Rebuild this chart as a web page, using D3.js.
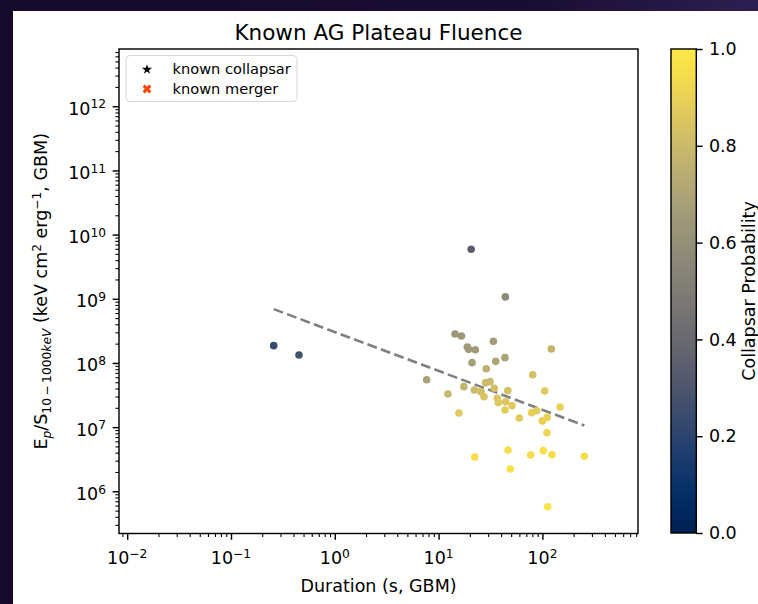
<!DOCTYPE html>
<html>
<head>
<meta charset="utf-8">
<script src="https://cdn.jsdelivr.net/npm/d3@7"></script>
<style>
  body { margin: 0; background: #160a2c; }
  svg { display: block; }
  text { font-family: "DejaVu Sans", sans-serif; fill: #000; }
</style>
</head>
<body>
<svg id="chart" width="758" height="604"></svg>
<script>
// GRB sample: GBM duration, peak-energy / fluence ratio, collapsar probability
const durations = [0.258, 0.452, 20.6, 44.0, 14.4, 16.6, 18.9, 19.5, 22.6, 33.7,
  121.9, 21.0, 28.8, 35.5, 43.6, 7.67, 80.7, 12.3, 17.5, 22.1,
  25.6, 27.4, 28.4, 31.3, 34.4, 36.8, 37.6, 44.3, 46.4, 51.0,
  43.6, 15.7, 59.9, 78.9, 88.1, 105.2, 147.9, 99.8, 111.5, 110.7,
  22.3, 46.7, 49.1, 77.1, 102.1, 123.6, 253.5, 112.4];
const fluenceRatios = [1.86e8, 1.33e8, 5.92e9, 1.07e9, 2.83e8, 2.63e8, 1.77e8, 1.63e8, 1.61e8, 2.18e8,
  1.65e8, 1.01e8, 8.14e7, 1.06e8, 1.21e8, 5.48e7, 6.56e7, 3.29e7, 4.27e7, 3.79e7,
  3.57e7, 2.98e7, 4.93e7, 5.11e7, 4.03e7, 2.82e7, 2.41e7, 2.49e7, 3.70e7, 2.16e7,
  1.85e7, 1.66e7, 1.39e7, 1.68e7, 1.80e7, 3.66e7, 2.06e7, 1.25e7, 1.42e7, 8.19e6,
  3.43e6, 4.41e6, 2.23e6, 3.68e6, 4.30e6, 3.72e6, 3.52e6, 5.75e5];
const collapsarProb = [0.24, 0.27, 0.35, 0.57, 0.63, 0.64, 0.64, 0.65, 0.66, 0.66,
  0.78, 0.68, 0.75, 0.71, 0.69, 0.69, 0.82, 0.79, 0.78, 0.80,
  0.82, 0.84, 0.80, 0.80, 0.82, 0.85, 0.86, 0.85, 0.83, 0.87,
  0.88, 0.86, 0.88, 0.89, 0.88, 0.86, 0.90, 0.90, 0.90, 0.92,
  0.95, 0.95, 0.96, 0.95, 0.96, 0.95, 0.95, 0.98];

// power-law trend endpoints
const fitDurations = [0.258, 253.5];
const fitRatios = [6.9e8, 1.06e7];

// axis ticks
const xMajorExponents = [-2, -1, 0, 1, 2];
const yMajorExponents = [6, 7, 8, 9, 10, 11, 12];
const colorbarTicks = [0, 0.2, 0.4, 0.6, 0.8, 1.0];
const legendLabels = ["known collapsar", "known merger"];

const svg = d3.select("#chart");

// page backdrop and figure panel
const defs = svg.append("defs");
const bg = defs.append("linearGradient").attr("id", "bgGrad").attr("x1", 0).attr("x2", 1).attr("y1", 0).attr("y2", 0);
bg.append("stop").attr("offset", 0).attr("stop-color", "#150a2a");
bg.append("stop").attr("offset", 0.7).attr("stop-color", "#1a0d33");
bg.append("stop").attr("offset", 1).attr("stop-color", "#2d1f52");
svg.append("rect").attr("width", 758).attr("height", 604).attr("fill", "url(#bgGrad)");
svg.append("rect").attr("x", 13).attr("y", 11).attr("width", 745).attr("height", 593).attr("fill", "#fff");

const plot = { left: 119, right: 638, top: 49, bottom: 533.5 };

const x = d3.scaleLog().domain([0.00834, 833.7]).range([plot.left, plot.right]);
const y = d3.scaleLog().domain([2.2e5, 7.8e12]).range([plot.bottom, plot.top]);
const color = d3.scaleSequential(d3.interpolateCividis).domain([0, 1]);

const FS = 17.5;

// minor tick values for each log axis
function minorTicks(scale) {
  const [a, b] = scale.domain();
  const out = [];
  for (let e = Math.floor(Math.log10(a)); e <= Math.ceil(Math.log10(b)); e++) {
    for (let m = 2; m <= 9; m++) {
      const v = m * Math.pow(10, e);
      if (v >= a && v <= b) out.push(v);
    }
  }
  return out;
}

function styleTicks(g, w) {
  g.select(".domain").remove();
  g.selectAll(".tick line").attr("stroke", "#000").attr("stroke-width", w);
  g.selectAll(".tick text").remove();
}

// x axis
const gx = svg.append("g").attr("transform", `translate(0,${plot.bottom})`);
gx.append("g").call(d3.axisBottom(x).tickValues(minorTicks(x)).tickSize(3.6).tickFormat("")).call(styleTicks, 1.08);
gx.append("g").call(d3.axisBottom(x).tickValues(xMajorExponents.map(e => Math.pow(10, e))).tickSize(6.3).tickFormat("")).call(styleTicks, 1.44);

// y axis
const gy = svg.append("g").attr("transform", `translate(${plot.left},0)`);
gy.append("g").call(d3.axisLeft(y).tickValues(minorTicks(y)).tickSize(3.6).tickFormat("")).call(styleTicks, 1.08);
gy.append("g").call(d3.axisLeft(y).tickValues(yMajorExponents.map(e => Math.pow(10, e))).tickSize(6.3).tickFormat("")).call(styleTicks, 1.44);

// rich text: parts with optional sub/sup and italic
function richText(sel, parts, fs) {
  let cur = 0;
  parts.forEach(p => {
    let target = 0, size = fs;
    if (p.sup) { target = -0.36 * fs; size = fs * 0.7; }
    if (p.sub) { target = 0.2 * fs; size = fs * 0.7; }
    const ts = sel.append("tspan").text(p.t).attr("font-size", size).attr("dy", target - cur);
    if (p.italic) ts.attr("font-style", "italic");
    cur = target;
  });
}

function powerLabel(sel, e) {
  const exp = e < 0 ? "\u2212" + Math.abs(e) : String(e);
  richText(sel, [{ t: "10" }, { t: exp, sup: true }], FS);
}

xMajorExponents.forEach(e => {
  const t = svg.append("text").attr("x", x(Math.pow(10, e))).attr("y", 564).attr("text-anchor", "middle");
  powerLabel(t, e);
});
yMajorExponents.forEach(e => {
  const t = svg.append("text").attr("x", 106).attr("y", y(Math.pow(10, e)) + 8.5).attr("text-anchor", "end");
  powerLabel(t, e);
});

// trend line
const line = d3.line().x(d => x(d[0])).y(d => y(d[1]));
svg.append("path")
  .datum(d3.zip(fitDurations, fitRatios))
  .attr("d", line)
  .attr("fill", "none")
  .attr("stroke", "#808080")
  .attr("stroke-width", 2.6)
  .attr("stroke-dasharray", "10,4.3");

// scatter points
svg.append("g").selectAll("circle")
  .data(d3.range(durations.length))
  .join("circle")
  .attr("cx", i => x(durations[i]))
  .attr("cy", i => y(fluenceRatios[i]))
  .attr("r", 3.8)
  .attr("fill", i => color(collapsarProb[i]));

// frame
svg.append("rect")
  .attr("x", plot.left).attr("y", plot.top)
  .attr("width", plot.right - plot.left).attr("height", plot.bottom - plot.top)
  .attr("fill", "none").attr("stroke", "#000").attr("stroke-width", 1.44);

// legend
const lg = svg.append("g");
lg.append("rect").attr("x", 126).attr("y", 55.5).attr("width", 171).attr("height", 46)
  .attr("rx", 4).attr("fill", "#fff").attr("fill-opacity", 0.8)
  .attr("stroke", "#d6d6d6").attr("stroke-width", 1);
lg.append("path").attr("d", d3.symbol(d3.symbolStar, 32)())
  .attr("transform", "translate(147,69.5)").attr("fill", "#000");
lg.append("path").attr("d", d3.symbol(d3.symbolCross, 48)())
  .attr("transform", "translate(147,89) rotate(45)").attr("fill", "#ff4500");
legendLabels.forEach((s, i) => {
  lg.append("text").attr("x", 172.5).attr("y", 73.5 + i * 20.3).attr("font-size", 14.6).text(s);
});

// title and axis labels
svg.append("text").attr("x", (plot.left + plot.right) / 2).attr("y", 40)
  .attr("text-anchor", "middle").attr("font-size", 21.5).text("Known AG Plateau Fluence");
svg.append("text").attr("x", (plot.left + plot.right) / 2).attr("y", 592)
  .attr("text-anchor", "middle").attr("font-size", FS).text("Duration (s, GBM)");

const yl = svg.append("text")
  .attr("transform", `translate(47,${(plot.top + plot.bottom) / 2}) rotate(-90)`)
  .attr("text-anchor", "middle").attr("font-size", FS);
richText(yl, [
  { t: "E" }, { t: "p", sub: true, italic: true }, { t: "/S" },
  { t: "10\u2009\u2212\u20091000", sub: true }, { t: "keV", sub: true, italic: true },
  { t: " (keV cm" }, { t: "2", sup: true }, { t: " erg" }, { t: "\u22121", sup: true }, { t: ", GBM)" }
], FS);

// colorbar
const cb = { x: 671, w: 25.3, top: 49, bottom: 533 };
const grad = defs.append("linearGradient").attr("id", "cbGrad")
  .attr("x1", 0).attr("x2", 0).attr("y1", 1).attr("y2", 0);
d3.range(0, 1.0001, 0.05).forEach(t => {
  grad.append("stop").attr("offset", t).attr("stop-color", color(t));
});
svg.append("rect").attr("x", cb.x).attr("y", cb.top).attr("width", cb.w).attr("height", cb.bottom - cb.top)
  .attr("fill", "url(#cbGrad)").attr("stroke", "#000").attr("stroke-width", 1.44);
const cScale = d3.scaleLinear().domain([0, 1]).range([cb.bottom, cb.top]);
const gc = svg.append("g").attr("transform", `translate(${cb.x + cb.w},0)`)
  .call(d3.axisRight(cScale).tickValues(colorbarTicks).tickSize(6.3).tickPadding(6.3).tickFormat(d3.format(".1f")));
gc.select(".domain").remove();
gc.selectAll(".tick line").attr("stroke", "#000").attr("stroke-width", 1.44);
gc.selectAll(".tick text").attr("font-size", FS).attr("font-family", "DejaVu Sans, sans-serif").attr("fill", "#000");

svg.append("text")
  .attr("transform", `translate(755,${(cb.top + cb.bottom) / 2}) rotate(-90)`)
  .attr("text-anchor", "middle").attr("font-size", FS).text("Collapsar Probability");
</script>
</body>
</html>
